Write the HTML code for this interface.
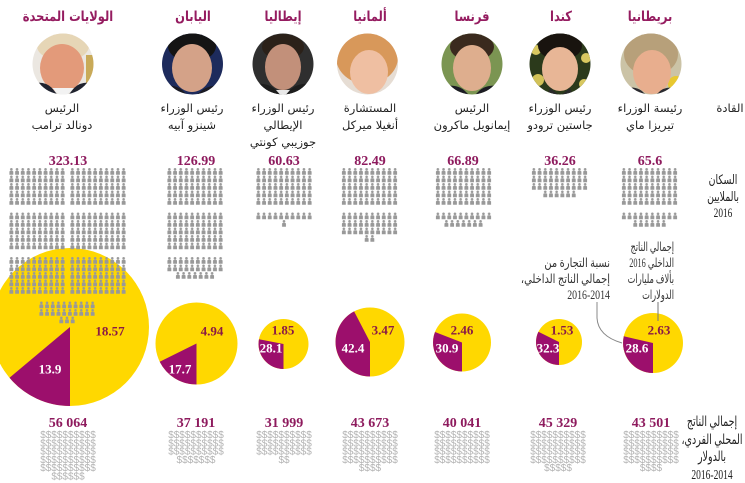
<!DOCTYPE html>
<html><head><meta charset="utf-8">
<style>
html,body{margin:0;padding:0;background:#fff;}
#w{position:relative;width:745px;height:483px;overflow:hidden;background:#fff;}
svg{position:absolute;left:0;top:0;}
.t{position:absolute;font-family:"DejaVu Sans",sans-serif;direction:rtl;text-align:center;white-space:nowrap;color:#222;}
.ti{font-weight:bold;color:#951c60;font-size:14px;line-height:18px;top:8px;width:140px;transform:scaleX(0.82);transform-origin:50% 0;}
.ld{font-size:11.5px;line-height:17px;top:100px;width:140px;}
.an{font-family:"Liberation Serif","DejaVu Sans",serif;font-size:12.5px;line-height:16px;color:#333;text-align:right;transform-origin:100% 0;}
</style></head><body><div id="w">
<svg width="745" height="483" viewBox="0 0 745 483" xmlns="http://www.w3.org/2000/svg">
<defs>
<pattern id="ppl" patternUnits="userSpaceOnUse" width="5.7" height="7.5">
<circle cx="2.35" cy="1.3" r="1.3" fill="#999"/>
<path d="M0.4 6.7 L0.4 4 Q0.4 2.7 1.6 2.7 L3.1 2.7 Q4.3 2.7 4.3 4 L4.3 6.7 Z" fill="#999"/>
</pattern>
<clipPath id="c1"><circle cx="63" cy="64" r="30.5"/></clipPath>
<clipPath id="c2"><circle cx="192.5" cy="64" r="30.5"/></clipPath>
<clipPath id="c3"><circle cx="283" cy="64" r="30.5"/></clipPath>
<clipPath id="c4"><circle cx="367.5" cy="64" r="30.5"/></clipPath>
<clipPath id="c5"><circle cx="472" cy="64" r="30.5"/></clipPath>
<clipPath id="c6"><circle cx="560" cy="64" r="30.5"/></clipPath>
<clipPath id="c7"><circle cx="651" cy="64" r="30.5"/></clipPath>
</defs>

<!-- photos -->
<g clip-path="url(#c1)">
<rect x="30" y="30" width="66" height="68" fill="#ebe7e1"/>
<rect x="86" y="55" width="10" height="30" fill="#c9aa58"/>
<ellipse cx="63" cy="46" rx="26" ry="15" fill="#e6d6b6"/>
<ellipse cx="62" cy="68" rx="22" ry="24" fill="#e39a7a"/>
<path d="M30 98 L30 84 Q44 80 52 88 L60 98 Z" fill="#20232f"/>
<path d="M96 98 L96 84 Q82 80 74 88 L66 98 Z" fill="#20232f"/>
<path d="M52 88 L63 98 L74 88 Z" fill="#f2f2f2"/>
</g>
<g clip-path="url(#c2)">
<rect x="160" y="30" width="66" height="68" fill="#1d2b5c"/>
<ellipse cx="192" cy="46" rx="24" ry="16" fill="#141414"/>
<ellipse cx="192" cy="68" rx="20" ry="24" fill="#d4a288"/>
<path d="M160 98 L162 86 Q178 84 184 92 L192 98 Z" fill="#1a1a22"/>
<path d="M226 98 L224 86 Q208 84 200 92 L192 98 Z" fill="#1a1a22"/>
</g>
<g clip-path="url(#c3)">
<rect x="250" y="30" width="66" height="68" fill="#2f2f2f"/>
<ellipse cx="283" cy="47" rx="21" ry="13" fill="#2b2119"/>
<ellipse cx="283" cy="67" rx="18" ry="23" fill="#c2907a"/>
<path d="M250 98 L252 84 Q268 82 276 90 L283 98 Z" fill="#1d1d1d"/>
<path d="M316 98 L314 84 Q298 82 290 90 L283 98 Z" fill="#1d1d1d"/>
<path d="M276 90 L283 98 L290 90 Z" fill="#e8e8e8"/>
</g>
<g clip-path="url(#c4)">
<rect x="335" y="30" width="66" height="68" fill="#e6ddd4"/>
<ellipse cx="367" cy="57" rx="31" ry="27" fill="#d8985a"/>
<ellipse cx="369" cy="72" rx="19" ry="22" fill="#efbfa2"/>
<path d="M335 98 L335 82 Q346 84 352 94 L356 98 Z" fill="#d53a27"/>
</g>
<g clip-path="url(#c5)">
<rect x="440" y="30" width="66" height="68" fill="#7b9552"/>
<ellipse cx="472" cy="47" rx="22" ry="14" fill="#3a2a1e"/>
<ellipse cx="472" cy="68" rx="19" ry="23" fill="#deae8e"/>
<path d="M440 98 L442 86 Q458 84 465 91 L472 98 Z" fill="#1c1c24"/>
<path d="M504 98 L502 86 Q486 84 479 91 L472 98 Z" fill="#1c1c24"/>
</g>
<g clip-path="url(#c6)">
<rect x="528" y="30" width="66" height="68" fill="#2b3a1b"/>
<circle cx="536" cy="50" r="5" fill="#d8c860"/>
<circle cx="586" cy="58" r="5" fill="#d8c860"/>
<circle cx="538" cy="80" r="6" fill="#d2c258"/>
<circle cx="584" cy="84" r="5" fill="#d8c860"/>
<ellipse cx="560" cy="46" rx="22" ry="14" fill="#19140f"/>
<ellipse cx="560" cy="69" rx="18" ry="22" fill="#e8b696"/>
<path d="M546 98 L550 88 L560 96 L570 88 L574 98 Z" fill="#2a2a2a"/>
</g>
<g clip-path="url(#c7)">
<rect x="618" y="30" width="66" height="68" fill="#cbc3a6"/>
<circle cx="676" cy="84" r="8" fill="#e8c830"/>
<ellipse cx="651" cy="54" rx="27" ry="22" fill="#b7a07a"/>
<ellipse cx="652" cy="72" rx="19" ry="22" fill="#e8ae8e"/>
<path d="M624 98 L626 88 Q638 86 644 93 L650 98 Z" fill="#2a2a30"/>
<path d="M678 98 L676 88 Q664 86 658 93 L652 98 Z" fill="#2a2a30"/>
</g>

<!-- pies -->
<circle cx="70" cy="327" r="79" fill="#ffd800"/>
<path d="M70 327 L70 406 A79 79 0 0 1 9.5 377.8 Z" fill="#9c0f6c"/>
<circle cx="196.5" cy="343.5" r="41" fill="#ffd800"/>
<path d="M196.5 343.5 L196.5 384.5 A41 41 0 0 1 159.7 361.7 Z" fill="#9c0f6c"/>
<circle cx="283.5" cy="344" r="25" fill="#ffd800"/>
<path d="M283.5 344 L283.5 369 A25 25 0 0 1 259 339.2 Z" fill="#9c0f6c"/>
<circle cx="370" cy="342" r="34.5" fill="#ffd800"/>
<path d="M370 342 L370 376.5 A34.5 34.5 0 0 1 354.1 311.4 Z" fill="#9c0f6c"/>
<circle cx="462" cy="342.5" r="29" fill="#ffd800"/>
<path d="M462 342.5 L462 371.5 A29 29 0 0 1 435 332 Z" fill="#9c0f6c"/>
<circle cx="559" cy="342" r="23" fill="#ffd800"/>
<path d="M559 342 L559 365 A23 23 0 0 1 538.4 331.8 Z" fill="#9c0f6c"/>
<circle cx="653" cy="343" r="30" fill="#ffd800"/>
<path d="M653 343 L653 373 A30 30 0 0 1 623.8 336.3 Z" fill="#9c0f6c"/>

<!-- leaders -->
<line x1="658" y1="302" x2="658" y2="321" stroke="#777" stroke-width="1"/>
<path d="M597 302 L597 318 Q598 336 622 343" fill="none" stroke="#888" stroke-width="1"/>

<!-- population icons -->
<g transform="translate(9,168)"><rect width="57" height="37.5" fill="url(#ppl)"/></g>
<g transform="translate(9,212.5)"><rect width="57" height="37.5" fill="url(#ppl)"/></g>
<g transform="translate(9,257)"><rect width="57" height="37.5" fill="url(#ppl)"/></g>
<g transform="translate(70,168)"><rect width="57" height="37.5" fill="url(#ppl)"/></g>
<g transform="translate(70,212.5)"><rect width="57" height="37.5" fill="url(#ppl)"/></g>
<g transform="translate(70,257)"><rect width="57" height="37.5" fill="url(#ppl)"/></g>
<g transform="translate(39,301.5)"><rect width="57" height="15" fill="url(#ppl)"/></g>
<g transform="translate(58.95,316.5)"><rect width="17.1" height="7.5" fill="url(#ppl)"/></g>

<g transform="translate(167,168)"><rect width="57" height="37.5" fill="url(#ppl)"/></g>
<g transform="translate(167,212.5)"><rect width="57" height="37.5" fill="url(#ppl)"/></g>
<g transform="translate(167,257)"><rect width="57" height="15" fill="url(#ppl)"/></g>
<g transform="translate(175.55,272)"><rect width="39.9" height="7.5" fill="url(#ppl)"/></g>

<g transform="translate(256,168)"><rect width="57" height="37.5" fill="url(#ppl)"/></g>
<g transform="translate(256,212.5)"><rect width="57" height="7.5" fill="url(#ppl)"/></g>
<g transform="translate(281.65,220)"><rect width="5.7" height="7.5" fill="url(#ppl)"/></g>

<g transform="translate(341.5,168)"><rect width="57" height="37.5" fill="url(#ppl)"/></g>
<g transform="translate(341.5,212.5)"><rect width="57" height="22.5" fill="url(#ppl)"/></g>
<g transform="translate(364.3,235)"><rect width="11.4" height="7.5" fill="url(#ppl)"/></g>

<g transform="translate(435.5,168)"><rect width="57" height="37.5" fill="url(#ppl)"/></g>
<g transform="translate(435.5,212.5)"><rect width="57" height="7.5" fill="url(#ppl)"/></g>
<g transform="translate(444.05,220)"><rect width="39.9" height="7.5" fill="url(#ppl)"/></g>

<g transform="translate(531.5,168)"><rect width="57" height="22.5" fill="url(#ppl)"/></g>
<g transform="translate(542.9,190.5)"><rect width="34.2" height="7.5" fill="url(#ppl)"/></g>

<g transform="translate(621.5,168)"><rect width="57" height="37.5" fill="url(#ppl)"/></g>
<g transform="translate(621.5,212.5)"><rect width="57" height="7.5" fill="url(#ppl)"/></g>
<g transform="translate(632.9,220)"><rect width="34.2" height="7.5" fill="url(#ppl)"/></g>

<!-- population numbers -->
<g font-family="Liberation Serif, serif" font-weight="bold" font-size="14" fill="#8e1b5e" text-anchor="middle">
<text x="68" y="165">323.13</text>
<text x="196" y="165">126.99</text>
<text x="284" y="165">60.63</text>
<text x="370" y="165">82.49</text>
<text x="463" y="165">66.89</text>
<text x="560" y="165">36.26</text>
<text x="650" y="165">65.6</text>
</g>

<!-- pie labels -->
<g font-family="Liberation Serif, serif" font-weight="bold" font-size="13" text-anchor="middle">
<g fill="#8a1a45">
<text x="110" y="335.5">18.57</text>
<text x="212" y="335.5">4.94</text>
<text x="283" y="334.5">1.85</text>
<text x="383" y="334.5">3.47</text>
<text x="462" y="334.5">2.46</text>
<text x="562" y="334.5">1.53</text>
<text x="659" y="334.5">2.63</text>
</g>
<g fill="#ffffff">
<text x="50" y="373.5">13.9</text>
<text x="180" y="373.5">17.7</text>
<text x="271" y="352.5">28.1</text>
<text x="353" y="352.5">42.4</text>
<text x="447" y="352.5">30.9</text>
<text x="548" y="352.5">32.3</text>
<text x="637" y="352.5">28.6</text>
</g>
</g>

<!-- GDP per capita -->
<g font-family="Liberation Serif, serif" font-weight="bold" font-size="14" fill="#8e1b5e" text-anchor="middle">
<text x="68" y="427">56 064</text>
<text x="196" y="427">37 191</text>
<text x="284" y="427">31 999</text>
<text x="370" y="427">43 673</text>
<text x="462" y="427">40 041</text>
<text x="558" y="427">45 329</text>
<text x="651" y="427">43 501</text>
</g>
<g font-family="Liberation Sans, sans-serif" font-size="10" fill="#b3b3b3" text-anchor="middle">
<text x="68" y="438">$$$$$$$$$$</text><text x="68" y="446.3">$$$$$$$$$$</text><text x="68" y="454.6">$$$$$$$$$$</text><text x="68" y="462.9">$$$$$$$$$$</text><text x="68" y="471.2">$$$$$$$$$$</text><text x="68" y="479.5">$$$$$$</text>
<text x="196" y="438">$$$$$$$$$$</text><text x="196" y="446.3">$$$$$$$$$$</text><text x="196" y="454.6">$$$$$$$$$$</text><text x="196" y="462.9">$$$$$$$</text>
<text x="284" y="438">$$$$$$$$$$</text><text x="284" y="446.3">$$$$$$$$$$</text><text x="284" y="454.6">$$$$$$$$$$</text><text x="284" y="462.9">$$</text>
<text x="370" y="438">$$$$$$$$$$</text><text x="370" y="446.3">$$$$$$$$$$</text><text x="370" y="454.6">$$$$$$$$$$</text><text x="370" y="462.9">$$$$$$$$$$</text><text x="370" y="471.2">$$$$</text>
<text x="462" y="438">$$$$$$$$$$</text><text x="462" y="446.3">$$$$$$$$$$</text><text x="462" y="454.6">$$$$$$$$$$</text><text x="462" y="462.9">$$$$$$$$$$</text>
<text x="558" y="438">$$$$$$$$$$</text><text x="558" y="446.3">$$$$$$$$$$</text><text x="558" y="454.6">$$$$$$$$$$</text><text x="558" y="462.9">$$$$$$$$$$</text><text x="558" y="471.2">$$$$$</text>
<text x="651" y="438">$$$$$$$$$$</text><text x="651" y="446.3">$$$$$$$$$$</text><text x="651" y="454.6">$$$$$$$$$$</text><text x="651" y="462.9">$$$$$$$$$$</text><text x="651" y="471.2">$$$$</text>
</g>
</svg>

<!-- titles -->
<div class="t ti" style="left:-2px;">الولايات المتحدة</div>
<div class="t ti" style="left:123px;">اليابان</div>
<div class="t ti" style="left:213px;">إيطاليا</div>
<div class="t ti" style="left:300px;">ألمانيا</div>
<div class="t ti" style="left:402px;">فرنسا</div>
<div class="t ti" style="left:491px;">كندا</div>
<div class="t ti" style="left:580px;">بريطانيا</div>

<!-- leaders -->
<div class="t ld" style="left:-8px;">الرئيس<br>دونالد ترامب</div>
<div class="t ld" style="left:122px;">رئيس الوزراء<br>شينزو آبيه</div>
<div class="t ld" style="left:213px;">رئيس الوزراء<br>الإيطالي<br>جوزيبي كونتي</div>
<div class="t ld" style="left:300px;">المستشارة<br>أنغيلا ميركل</div>
<div class="t ld" style="left:402px;">الرئيس<br>إيمانويل ماكرون</div>
<div class="t ld" style="left:490px;">رئيس الوزراء<br>جاستين ترودو</div>
<div class="t ld" style="left:580px;">رئيسة الوزراء<br>تيريزا ماي</div>
<div class="t" style="left:700px;top:100px;width:60px;font-size:11.5px;line-height:17px;">القادة</div>

<!-- side labels -->
<div class="t" style="left:683px;top:172px;width:80px;font-family:'Liberation Serif','DejaVu Sans',serif;font-size:13px;line-height:16.5px;transform:scaleX(0.72);transform-origin:50% 0;">السكان<br>بالملايين<br>2016</div>
<div class="t an" style="left:534px;top:239px;width:140px;transform:scaleX(0.66);">إجمالي الناتج<br>الداخلي 2016<br>بألاف مليارات<br>الدولارات</div>
<div class="t an" style="left:460px;top:255px;width:150px;transform:scaleX(0.79);">نسبة التجارة من<br>إجمالي الناتج الداخلي،<br>2016-2014</div>
<div class="t" style="left:662px;top:414px;width:100px;font-family:'Liberation Serif','DejaVu Sans',serif;font-size:14px;line-height:17.7px;transform:scaleX(0.68);transform-origin:50% 0;">إجمالي الناتج<br>المحلي الفردي،<br>بالدولار<br>2016-2014</div>
</div></body></html>
